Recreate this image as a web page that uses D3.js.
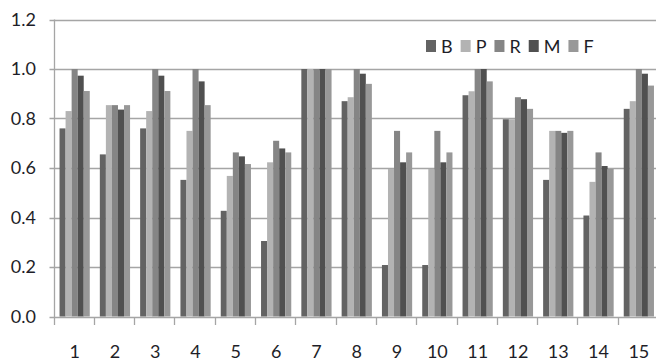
<!DOCTYPE html>
<html>
<head>
<meta charset="utf-8">
<script src="https://cdn.jsdelivr.net/npm/d3@7"></script>
<style>
  body { margin: 0; background: #fff; }
  text { font-family: Lato, "Open Sans", sans-serif; fill: #1e1e28; }
</style>
</head>
<body>
<svg width="656" height="364"></svg>
<script>
// categories and series
const categories = ['1','2','3','4','5','6','7','8','9','10','11','12','13','14','15'];
const seriesNames = ['B','P','R','M','F'];
const B = [0.76, 0.655, 0.76, 0.552, 0.427, 0.305, 1.0, 0.87, 0.208, 0.208, 0.894, 0.797, 0.552, 0.408, 0.839];
const P = [0.83, 0.854, 0.83, 0.75, 0.568, 0.623, 1.0, 0.886, 0.596, 0.596, 0.91, 0.797, 0.75, 0.544, 0.87];
const R = [1.0, 0.854, 1.0, 1.0, 0.663, 0.71, 1.0, 1.0, 0.75, 0.75, 1.0, 0.886, 0.75, 0.663, 1.0];
const M = [0.973, 0.836, 0.973, 0.95, 0.647, 0.679, 1.0, 0.981, 0.623, 0.623, 1.0, 0.878, 0.742, 0.608, 0.981];
const F = [0.911, 0.854, 0.911, 0.854, 0.616, 0.663, 1.0, 0.94, 0.663, 0.663, 0.95, 0.839, 0.75, 0.596, 0.933];
const yTicks = [0, 0.2, 0.4, 0.6, 0.8, 1.0, 1.2];

const values = [B, P, R, M, F];
const colors = ['#636363', '#b3b3b3', '#858585', '#505050', '#989898'];

const plotLeft = 54.5, plotRight = 659, plotTop = 19.5, plotBottom = 316.5;

const svg = d3.select('svg');

const x = d3.scaleBand()
    .domain(categories)
    .range([plotLeft, plotRight])
    .paddingInner(0.25)
    .paddingOuter(0.125);

const xs = d3.scaleBand()
    .domain(seriesNames)
    .range([0, x.bandwidth()]);

const y = d3.scaleLinear()
    .domain([0, 1.2])
    .range([plotBottom, plotTop]);

const color = d3.scaleOrdinal().domain(seriesNames).range(colors);

// gridlines
svg.append('g')
    .selectAll('line')
    .data(yTicks)
    .join('line')
    .attr('x1', plotLeft - 5)
    .attr('x2', 656)
    .attr('y1', d => Math.round(y(d)) + 0.5)
    .attr('y2', d => Math.round(y(d)) + 0.5)
    .attr('stroke', '#a5a5a5')
    .attr('stroke-width', 1.3);

// y labels
svg.append('g')
    .selectAll('text')
    .data(yTicks)
    .join('text')
    .attr('x', 36)
    .attr('y', d => y(d))
    .attr('dy', '0.36em')
    .attr('text-anchor', 'end')
    .style('font-size', '18px')
    .text(d => d.toFixed(1));

// bars
const groups = svg.append('g')
    .selectAll('g')
    .data(categories)
    .join('g')
    .attr('transform', d => `translate(${x(d)},0)`);

groups.selectAll('rect')
    .data((c, i) => seriesNames.map((s, j) => ({ s, v: values[j][i] })))
    .join('rect')
    .attr('x', d => xs(d.s))
    .attr('y', d => y(d.v))
    .attr('width', xs.bandwidth())
    .attr('height', d => y(0) - y(d.v))
    .attr('fill', d => color(d.s));

// axes lines
svg.append('line')
    .attr('x1', Math.round(plotLeft) - 0.5).attr('x2', Math.round(plotLeft) - 0.5)
    .attr('y1', plotTop).attr('y2', plotBottom + 0.5)
    .attr('stroke', '#a5a5a5').attr('stroke-width', 1.3);

const bounds = d3.range(categories.length + 1)
    .map(i => plotLeft + i * x.step());
svg.append('g')
    .selectAll('line')
    .data(bounds)
    .join('line')
    .attr('x1', d => Math.round(d) - 0.5)
    .attr('x2', d => Math.round(d) - 0.5)
    .attr('y1', Math.round(y(0)))
    .attr('y2', Math.round(y(0)) + 8)
    .attr('stroke', '#a5a5a5')
    .attr('stroke-width', 1.3);

// x labels
svg.append('g')
    .selectAll('text')
    .data(categories)
    .join('text')
    .attr('x', d => x(d) + x.bandwidth() / 2)
    .attr('y', 358)
    .attr('text-anchor', 'middle')
    .style('font-size', '18px')
    .text(d => d);

// legend
const legend = svg.append('g');
let lx = 426;
seriesNames.forEach(s => {
    legend.append('rect')
        .attr('x', lx).attr('y', 40)
        .attr('width', 10).attr('height', 12)
        .attr('fill', color(s));
    const t = legend.append('text')
        .attr('x', lx + 15).attr('y', 53)
        .style('font-size', '18px')
        .text(s);
    lx += 15 + t.node().getComputedTextLength() + 8;
});
</script>
</body>
</html>
